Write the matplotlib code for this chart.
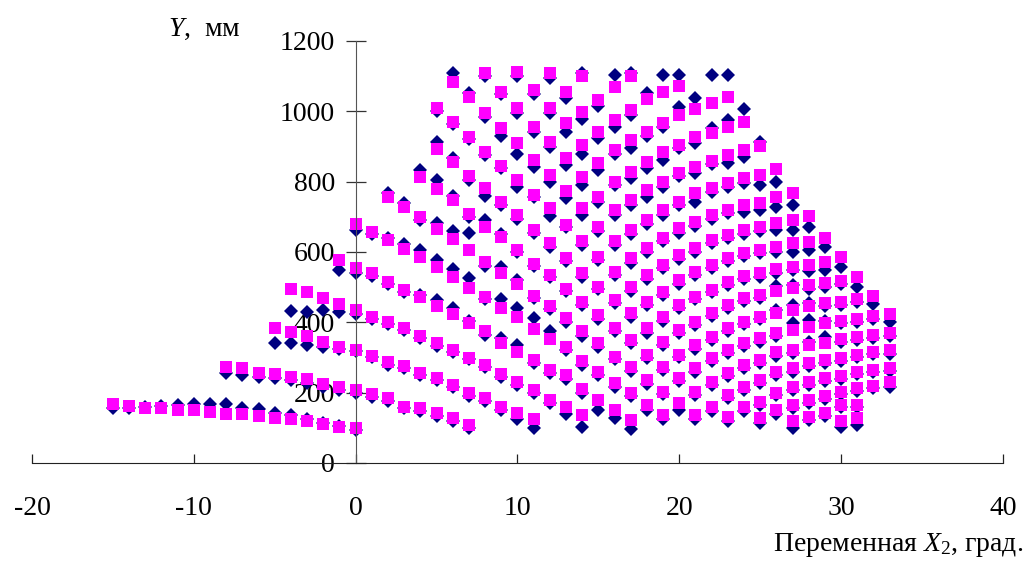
import matplotlib
matplotlib.use("Agg")
import matplotlib.pyplot as plt

# integer values of X2 (columns of points)
x_columns = [-15, -14, -13, -12, -11, -10, -9, -8, -7, -6, -5, -4, -3, -2, -1,
             0, 1, 2, 3, 4, 5, 6, 7, 8, 9, 10, 11, 12, 13, 14, 15, 16, 17,
             18, 19, 20, 21, 22, 23, 24, 25, 26, 27, 28, 29, 30, 31, 32, 33]

# series 1 (navy diamonds), Y in mm for each column
navy_cols = [
    [155], [155], [160], [163], [165], [167], [167],
    [167, 257], [155, 250], [153, 245],
    [143, 241, 342], [136, 236, 342, 432], [125, 228, 336, 430],
    [113, 217, 329, 435], [106, 208, 323, 430, 549],
    [95, 200, 318, 425, 539, 662],
    [188, 300, 410, 532, 650],
    [175, 280, 395, 510, 640, 767],
    [155, 270, 378, 485, 622, 740],
    [148, 250, 355, 478, 605, 690, 833],
    [135, 235, 332, 463, 577, 682, 805, 914, 1000],
    [120, 215, 315, 440, 551, 660, 760, 866, 965, 1108],
    [100, 190, 295, 405, 525, 655, 700, 805, 920, 1052],
    [176, 272, 365, 465, 560, 690, 760, 875, 985, 1100],
    [150, 245, 355, 465, 558, 650, 735, 838, 930, 1048],
    [125, 222, 335, 440, 520, 600, 695, 786, 880, 995, 1100],
    [99, 200, 285, 411, 470, 560, 655, 755, 841, 942, 1050],
    [170, 255, 374, 438, 530, 615, 701, 800, 898, 995, 1095],
    [140, 240, 320, 400, 488, 575, 670, 753, 847, 942, 1037],
    [103, 200, 280, 362, 450, 530, 620, 705, 790, 880, 977, 1110],
    [152, 250, 330, 410, 495, 578, 660, 743, 833, 923, 1016],
    [127, 215, 295, 375, 455, 535, 620, 705, 790, 880, 956, 1103],
    [96, 190, 262, 340, 415, 490, 570, 650, 735, 810, 895, 990, 1110],
    [150, 225, 298, 370, 450, 522, 600, 680, 757, 838, 930, 1051],
    [125, 195, 265, 335, 405, 478, 555, 630, 705, 786, 862, 955, 1103],
    [150, 232, 300, 370, 440, 510, 580, 655, 735, 815, 895, 1013, 1103],
    [125, 193, 260, 325, 393, 465, 535, 600, 675, 743, 824, 909, 1037],
    [148, 222, 290, 350, 418, 485, 555, 625, 695, 770, 850, 952, 1103],
    [120, 185, 248, 312, 375, 440, 505, 575, 640, 710, 785, 852, 975, 1103],
    [148, 208, 270, 332, 395, 460, 522, 588, 652, 715, 795, 871, 1006],
    [115, 165, 228, 285, 345, 408, 470, 530, 598, 660, 719, 791, 914],
    [138, 192, 250, 305, 362, 435, 502, 540, 601, 663, 729, 800],
    [99, 156, 208, 260, 312, 397, 449, 505, 550, 601, 663, 734],
    [122, 170, 222, 275, 345, 407, 454, 495, 547, 606, 670],
    [135, 182, 232, 285, 359, 405, 445, 500, 549, 613],
    [103, 158, 195, 240, 290, 345, 398, 450, 510, 558],
    [108, 158, 205, 252, 300, 350, 400, 458, 501],
    [212, 258, 310, 356, 410, 452],
    [215, 262, 310, 362, 402],
]

# series 2 (magenta squares), Y in mm for each column
magenta_cols = [
    [168], [163], [157], [157], [151], [151], [144],
    [138, 274], [138, 269], [134, 257],
    [127, 253, 385], [124, 245, 373, 494], [118, 239, 361, 487],
    [111, 225, 345, 470], [103, 217, 331, 451, 578],
    [99, 208, 321, 435, 554, 680],
    [196, 304, 416, 539, 658],
    [184, 288, 402, 516, 634, 755],
    [160, 276, 383, 492, 608, 729],
    [155, 257, 361, 471, 585, 699, 812],
    [143, 241, 340, 446, 556, 664, 778, 892, 1009],
    [127, 222, 321, 424, 528, 636, 748, 857, 971, 1084],
    [108, 198, 298, 397, 497, 606, 708, 816, 928, 1040],
    [184, 279, 374, 473, 572, 672, 781, 885, 994, 1108],
    [160, 253, 340, 440, 539, 642, 743, 845, 952, 1056],
    [143, 231, 317, 414, 509, 606, 705, 805, 909, 1008, 1113],
    [124, 208, 293, 380, 475, 566, 663, 762, 862, 956, 1061],
    [179, 264, 352, 445, 535, 625, 724, 819, 914, 1008, 1108],
    [158, 250, 329, 411, 494, 582, 677, 772, 866, 966, 1056],
    [136, 210, 291, 374, 459, 539, 630, 724, 814, 904, 999, 1099],
    [179, 260, 340, 421, 501, 587, 672, 757, 852, 942, 1032],
    [150, 227, 302, 383, 464, 544, 630, 719, 800, 890, 975, 1068],
    [122, 198, 274, 350, 426, 501, 582, 663, 748, 828, 918, 1004, 1099],
    [165, 236, 307, 383, 459, 535, 610, 691, 776, 857, 942, 1034],
    [136, 203, 274, 345, 416, 487, 563, 639, 719, 800, 885, 966, 1056],
    [170, 241, 307, 378, 449, 520, 591, 667, 743, 824, 904, 990, 1072],
    [136, 203, 269, 335, 402, 473, 544, 610, 686, 767, 843, 926, 1006],
    [160, 231, 298, 359, 426, 492, 563, 634, 705, 781, 860, 939, 1023],
    [132, 193, 255, 321, 383, 449, 516, 582, 648, 719, 795, 876, 956, 1040],
    [160, 217, 279, 340, 402, 468, 532, 596, 663, 734, 810, 890, 971],
    [127, 174, 236, 293, 355, 416, 478, 539, 606, 672, 740, 819, 901],
    [150, 200, 258, 315, 371, 426, 490, 551, 615, 682, 757, 835],
    [118, 165, 217, 269, 321, 378, 435, 497, 558, 625, 691, 767],
    [132, 179, 231, 283, 335, 388, 445, 506, 563, 629, 702],
    [143, 190, 241, 293, 342, 397, 454, 511, 572, 639],
    [118, 165, 203, 247, 298, 352, 405, 459, 518, 585],
    [127, 165, 212, 260, 307, 357, 409, 465, 528],
    [219, 264, 317, 364, 418, 475],
    [231, 269, 321, 371, 424],
]

x_ticks = [-20, -10, 0, 10, 20, 30, 40]
y_ticks = [0, 200, 400, 600, 800, 1000, 1200]

plt.rcParams['font.family'] = ['Liberation Serif', 'DejaVu Serif']
plt.rcParams['axes.unicode_minus'] = False
plt.rcParams['mathtext.fontset'] = 'custom'
plt.rcParams['mathtext.rm'] = 'Liberation Serif'
plt.rcParams['mathtext.it'] = 'Liberation Serif:italic'


def flatten(cols):
    xs, ys = [], []
    for x, col in zip(x_columns, cols):
        for y in col:
            xs.append(x)
            ys.append(y)
    return xs, ys


fig = plt.figure(figsize=(10.31, 5.73), dpi=100)
ax = fig.add_axes([0.031, 0.192, 0.9418, 0.7365])

nx, ny = flatten(navy_cols)
mx, my = flatten(magenta_cols)
ax.plot(nx, ny, linestyle='none', marker='D', markersize=6.8,
        color='#000080', markeredgewidth=0, clip_on=False)
ax.plot(mx, my, linestyle='none', marker='s', markersize=8.4,
        color='#FF00FF', markeredgewidth=0, clip_on=False)

ax.set_xlim(-20, 40)
ax.set_ylim(0, 1200)
ax.set_xticks(x_ticks)
ax.set_yticks(y_ticks)

for side in ['top', 'right']:
    ax.spines[side].set_visible(False)
ax.spines['left'].set_position(('data', 0))
ax.spines['bottom'].set_position(('data', 0))
ax.spines['left'].set_color('#555555')
ax.spines['bottom'].set_color('#222222')

ax.tick_params(axis='x', direction='in', length=6.5, width=0.9, pad=24,
               labelsize=20, color='#222222')
ax.tick_params(axis='y', direction='inout', length=14, width=0.9, pad=8,
               labelsize=20, color='#333333')

fig.text(0.163, 0.949, '$Y$,  мм', fontsize=20, ha='left', va='center')
fig.text(0.992, 0.049, 'Переменная $X_2$, град.', fontsize=20,
         ha='right', va='center')

fig.savefig('out.png', dpi=100)
